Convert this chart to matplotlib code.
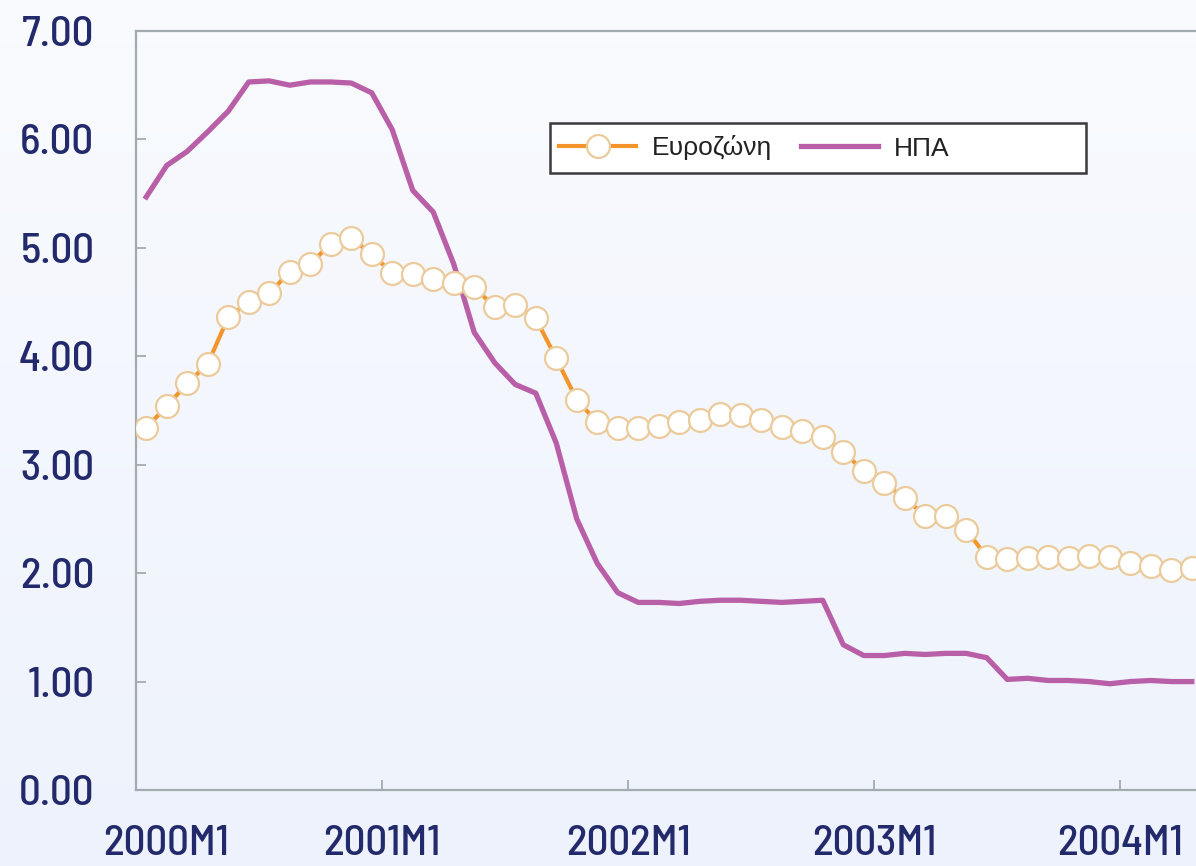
import numpy as np
import matplotlib
matplotlib.use("Agg")
import matplotlib.pyplot as plt
from matplotlib import font_manager as fm
from matplotlib.patches import Rectangle
from matplotlib.transforms import ScaledTranslation

# monthly data 2000M1 .. 2004M4
eurozone = [3.34, 3.54, 3.75, 3.93, 4.36, 4.50, 4.58, 4.78, 4.85, 5.04, 5.09, 4.94,
            4.77, 4.76, 4.71, 4.68, 4.64, 4.45, 4.47, 4.35, 3.98, 3.60, 3.39, 3.34,
            3.34, 3.36, 3.39, 3.41, 3.47, 3.46, 3.41, 3.35, 3.31, 3.26, 3.12, 2.94,
            2.83, 2.69, 2.53, 2.53, 2.40, 2.15, 2.13, 2.14, 2.15, 2.14, 2.16, 2.15,
            2.09, 2.07, 2.03, 2.05]
usa = [5.47, 5.76, 5.89, 6.07, 6.26, 6.53, 6.54, 6.50, 6.53, 6.53, 6.52, 6.43,
       6.09, 5.53, 5.33, 4.85, 4.22, 3.94, 3.74, 3.66, 3.20, 2.50, 2.09, 1.82,
       1.73, 1.73, 1.72, 1.74, 1.75, 1.75, 1.74, 1.73, 1.74, 1.75, 1.34, 1.24,
       1.24, 1.26, 1.25, 1.26, 1.26, 1.22, 1.02, 1.03, 1.01, 1.01, 1.00, 0.98,
       1.00, 1.01, 1.00, 1.00]
tick_labels = ["2000M1", "2001M1", "2002M1", "2003M1", "2004M1"]
series_names = ["Ευροζώνη", "ΗΠΑ"]

navy = "#232a6b"
orange = "#f3952a"
purple = "#b95fa8"
spine_col = "#a2abaf"

# pick a condensed face for the tick labels if one is around
have = {f.name for f in fm.fontManager.ttflist}
tick_font = "DejaVu Sans"
for cand in ["Barlow Semi Condensed", "Roboto Condensed", "Archivo Narrow",
             "PT Sans Narrow", "Fira Sans Condensed"]:
    if cand in have:
        tick_font = cand
        break

W, H = 1196, 866
fig = plt.figure(figsize=(W / 100, H / 100), dpi=100)

# background gradient
bg = fig.add_axes([0, 0, 1, 1], zorder=-1)
grad = np.linspace(0, 1, 256).reshape(-1, 1)
top = np.array([0.975, 0.982, 0.995])
bot = np.array([0.933, 0.950, 0.990])
img = top + (bot - top) * grad[:, :, None]
bg.imshow(img, aspect="auto", extent=[0, 1, 0, 1])
bg.axis("off")

x0, y0 = 136 / W, (H - 790) / H
ax = fig.add_axes([x0, y0, (1205 - 136) / W, (790 - 31) / H])
ax.set_facecolor("none")

x = np.arange(len(eurozone))
ax.plot(x, usa, color=purple, lw=3.8, solid_joinstyle="round", label=series_names[1], zorder=2)
ax.plot(x, eurozone, color=orange, lw=3.0, marker="o", ms=16.5, mfc="white",
        mec="#ebcb9c", mew=1.6, label=series_names[0], zorder=3)

ax.set_ylim(0, 7)
ax.set_xlim(-0.5, (1205 - 136) / 20.5 - 0.5)
ax.set_yticks(range(8))
ax.set_yticklabels([f"{v:.2f}" for v in range(8)])
ax.set_xticks([-0.5 + 12 * k for k in range(len(tick_labels))])
ax.set_xticklabels(tick_labels)

for s in ["left", "bottom", "top"]:
    ax.spines[s].set_color(spine_col)
    ax.spines[s].set_linewidth(1.6)
ax.spines["right"].set_visible(False)
ax.tick_params(axis="both", direction="in", length=7, width=1.3, color=spine_col,
               labelcolor=navy, labelsize=31)
ax.tick_params(axis="y", pad=30)
ax.tick_params(axis="x", pad=25)
for lab in ax.get_xticklabels() + ax.get_yticklabels():
    lab.set_family(tick_font)
    lab.set_weight(500)
first = ax.get_xticklabels()[0]
first.set_transform(first.get_transform() + ScaledTranslation(0.30, 0, fig.dpi_scale_trans))

# legend box
fig.patches.append(Rectangle((550 / W, (H - 173) / H), (1086 - 550) / W, 50 / H,
                             transform=fig.transFigure, facecolor="white",
                             edgecolor="#3a3a3a", lw=1.8, zorder=5))
h, l = ax.get_legend_handles_labels()
leg = fig.legend(h[::-1], l[::-1], loc="center left", ncol=2, frameon=False,
                 bbox_to_anchor=(541 / W, (H - 148) / H),
                 prop={"family": ["Liberation Sans", "DejaVu Sans"], "size": 19},
                 handlelength=2.9, handletextpad=0.6, columnspacing=1.1, borderpad=0.2)
leg.set_zorder(6)
for t in leg.get_texts():
    t.set_color("#222222")

fig.savefig("out.png", dpi=100)
